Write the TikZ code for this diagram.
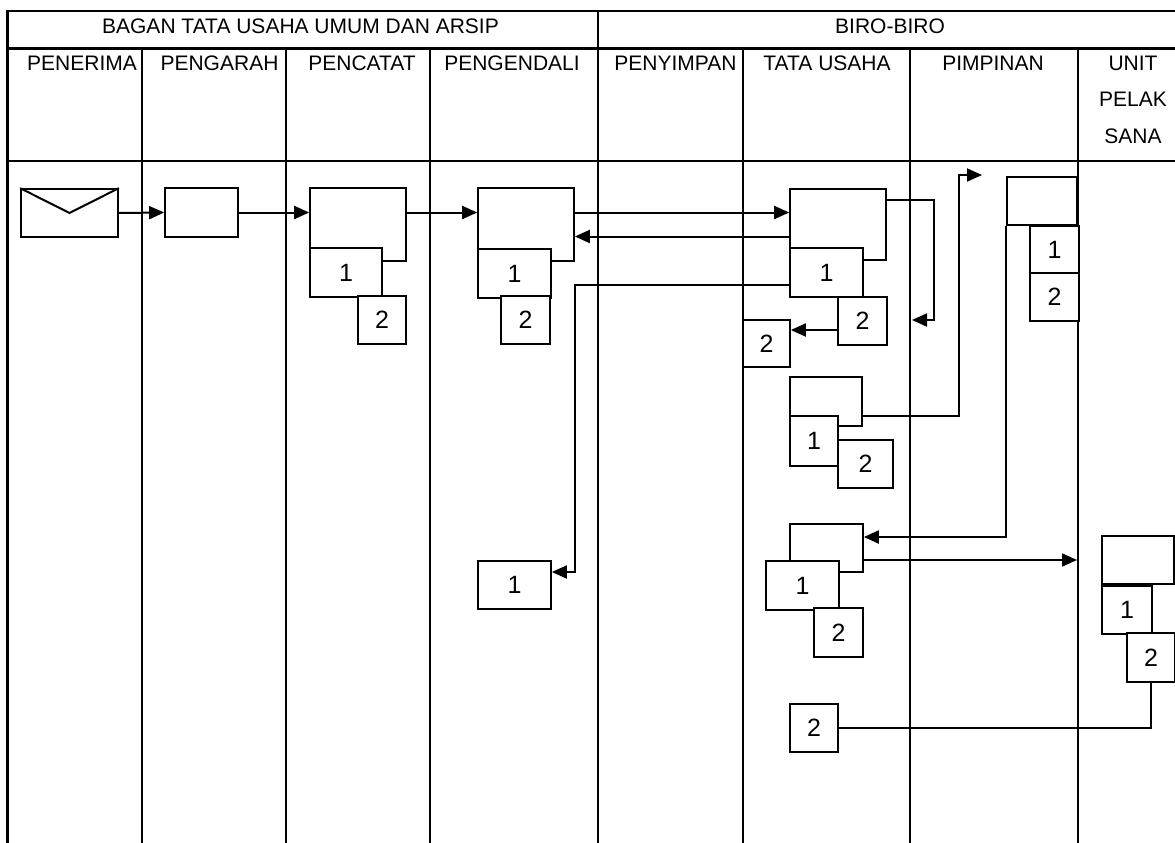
\documentclass[tikz,border=0pt]{standalone}
\usepackage{fontspec}
\setmainfont{Liberation Sans}
\usetikzlibrary{arrows.meta,calc}
\newcommand\hfont{\fontsize{21}{25}\selectfont}
\newcommand\nfont{\fontsize{25}{29}\selectfont}
\newcommand\bx[6]{\node[box,minimum width={#4-#2},minimum height={#5-#3}] (#1) at ({(#2+#4)/2},{(#3+#5)/2}) {#6};}
\begin{document}
\begin{tikzpicture}[x=1pt,y=-1pt,
  box/.style={draw, line width=1.7pt, fill=white, inner sep=0pt, font=\nfont},
  grid/.style={line width=2.2pt},
  conn/.style={line width=2pt},
  arr/.style={conn, -{Triangle[length=15pt,width=13pt]}},
  hdr/.style={inner sep=0pt, font=\hfont}]
\useasboundingbox (0,0) rectangle (1175,843);
% table
\draw[grid] (7.5,843) -- (7.5,11) -- (1176,11);
\draw[grid] (7.5,48.5) -- (1176,48.5);
\draw[grid] (7.5,161) -- (1176,161);
\draw[grid] (598,11) -- (598,843);
\foreach \x in {142,286,430,743,910,1078} \draw[grid] (\x,48.5) -- (\x,843);
% headers
\node[hdr] (h0) at (300.5,26) {BAGAN TATA USAHA UMUM DAN ARSIP};
\node[hdr] (h1) at (890,26) {BIRO-BIRO};
\node[hdr] (c1h) at (82,63) {PENERIMA};
\node[hdr] (c2h) at (219.5,63) {PENGARAH};
\node[hdr] (c3h) at (362,63) {PENCATAT};
\node[hdr] (c4h) at (512,63) {PENGENDALI};
\node[hdr] (c5h) at (675.5,63) {PENYIMPAN};
\node[hdr] (c6h) at (827,63) {TATA USAHA};
\node[hdr] (c7h) at (993,63) {PIMPINAN};
\node[hdr, align=center, font=\fontsize{21}{36.5}\selectfont] (c8h) at (1133,99.5) {UNIT\\PELAK\\SANA};
% boxes
\bx{env}{21}{189}{118}{237}{}
\draw[conn] (env.north west) -- (env.center) -- (env.north east);
\bx{pgr}{165}{188}{238}{237}{}
\bx{pc}{310}{188}{406}{261}{}
\bx{pca}{310}{248}{382}{297}{1}
\bx{pcb}{358}{296}{406}{344}{2}
\bx{pd}{478}{188}{574}{261}{}
\bx{pda}{478}{249}{551}{298}{1}
\bx{pdb}{501}{296}{550}{344}{2}
\bx{pdc}{478}{561}{551}{609}{1}
\bx{ta}{790}{189}{886}{260}{}
\bx{taa}{790}{248}{863}{297}{1}
\bx{tab}{838}{297}{887}{345}{2}
\bx{tax}{743}{320}{790}{367}{2}
\bx{tb}{790}{377}{862}{426}{}
\bx{tba}{790}{416}{838}{466}{1}
\bx{tbb}{838}{440}{893}{488}{2}
\bx{tc}{790}{524}{863}{572}{}
\bx{tca}{766}{561}{839}{610}{1}
\bx{tcb}{814}{608}{863}{657}{2}
\bx{td}{790}{704}{838}{752}{2}
\bx{pm}{1007}{177}{1077}{225}{}
\bx{pma}{1030}{226}{1079}{273}{1}
\bx{pmb}{1030}{273}{1079}{321}{2}
\node[box, line width=2.4pt, minimum width=72, minimum height=48] (un) at (1138,560) {};
\bx{una}{1102}{586}{1152}{634}{1}
\bx{unb}{1127}{633}{1175}{682}{2}
% free ends
\coordinate (e1) at (912,320);
\coordinate (e2) at (982,175);
\coordinate (e3) at (1077,560);
% connectors
\draw[arr] (env.east) -- (pgr.west);
\draw[arr] (pgr.east) -- (pc.west |- pgr.east);
\draw[arr] (pc.east |- 0,212.5) -- (pd.west |- 0,212.5);
\draw[arr] (pd.east |- 0,212.5) -- (ta.west |- 0,212.5);
\draw[arr] (ta.west |- 0,236.5) -- (pd.east |- 0,236.5);
\draw[arr] (ta.east |- 0,200) -| ($(e1)+(22,0)$) -- (e1);
\draw[arr] (tab.west |- 0,330) -- (tax.east |- 0,330);
\draw[arr] (taa.west |- 0,285) -- (pd.east |- 0,285) -- (pd.east |- 0,572) -- (pdc.east |- 0,572);
\draw[arr] (tb.east |- 0,416) -| ($(e2)+(-23,0)$) -- (e2);
\draw[arr] (pm.south west) -- (pm.south west |- 0,537) -- (tc.east |- 0,537);
\draw[arr] (tc.east |- 0,560) -- (e3);
\draw[conn] (unb.south) |- (td.east);
\end{tikzpicture}
\end{document}
